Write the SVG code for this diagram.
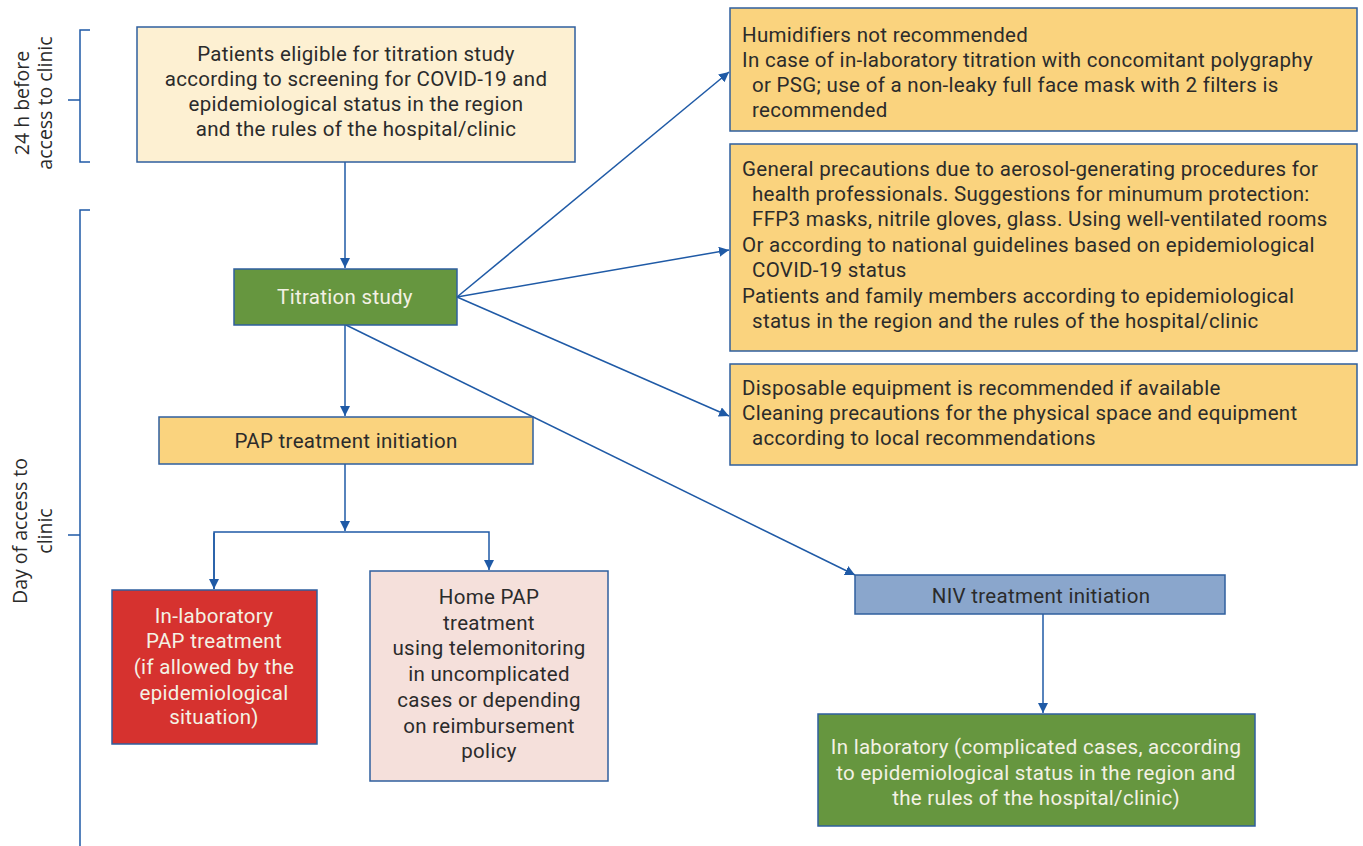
<svg xmlns="http://www.w3.org/2000/svg" width="1363" height="846" viewBox="0 0 1363 846">
<style>
  .box { stroke: #2f5f9e; stroke-width: 1.5; }
  .t { font-family: Roboto, "Liberation Sans", sans-serif; font-size: 20.5px; letter-spacing: 0.3px; fill: #2b2b2b; }
  .c { text-anchor: middle; }
  .w { fill: #f3f1e4; }
  .conn { stroke: #1f5aa6; stroke-width: 1.5; fill: none; }
  .side { font-family: "Open Sans", "Liberation Sans", sans-serif; font-size: 19.5px; fill: #2b2b2b; text-anchor: middle; }
</style>
<defs>
  <marker id="ah" markerWidth="12" markerHeight="12" refX="10" refY="5" orient="auto" markerUnits="userSpaceOnUse">
    <path d="M0,0 L10,5 L0,10 Z" fill="#1f5aa6"/>
  </marker>
</defs>
<rect width="1363" height="846" fill="#ffffff"/>

<g id="timeline">
  <path class="conn" d="M90,30 H80 V162 H90 M68,100 H80"/>
  <path class="conn" d="M90,210 H80 V846 M68,535 H80"/>
  <text class="side" transform="translate(29,103) rotate(-90)">24 h before</text>
  <text class="side" transform="translate(52,103) rotate(-90)">access to clinic</text>
  <text class="side" transform="translate(27,531) rotate(-90)">Day of access to</text>
  <text class="side" transform="translate(52,531) rotate(-90)">clinic</text>
</g>

<g id="connectors">
  <line class="conn" x1="345" y1="162" x2="345" y2="268" marker-end="url(#ah)"/>
  <line class="conn" x1="457" y1="297" x2="729" y2="72" marker-end="url(#ah)"/>
  <line class="conn" x1="457" y1="297" x2="729" y2="250" marker-end="url(#ah)"/>
  <line class="conn" x1="457" y1="297" x2="729" y2="416" marker-end="url(#ah)"/>
  <line class="conn" x1="345" y1="325" x2="345" y2="416" marker-end="url(#ah)"/>
  <line class="conn" x1="346" y1="325" x2="855" y2="575" marker-end="url(#ah)"/>
  <line class="conn" x1="345" y1="464" x2="345" y2="531" marker-end="url(#ah)"/>
  <path class="conn" d="M214,589 V532 H489 V570" marker-end="url(#ah)"/>
  <path class="conn" d="M214,533 V589" marker-end="url(#ah)"/>
  <line class="conn" x1="1043" y1="614" x2="1043" y2="713" marker-end="url(#ah)"/>
</g>

<g id="eligible">
  <rect class="box" x="137" y="27" width="438" height="135" fill="#fdf0d2"/>
  <text class="t c" x="356" y="61">Patients eligible for titration study</text>
  <text class="t c" x="356" y="86">according to screening for COVID-19 and</text>
  <text class="t c" x="356" y="111">epidemiological status in the region</text>
  <text class="t c" x="356" y="136">and the rules of the hospital/clinic</text>
</g>

<g id="titration">
  <rect class="box" x="234" y="269" width="223" height="56" fill="#66963f"/>
  <text class="t c w" x="345" y="304">Titration study</text>
</g>

<g id="pap-init">
  <rect class="box" x="159" y="417" width="374" height="47" fill="#fad37e"/>
  <text class="t c" x="346" y="448">PAP treatment initiation</text>
</g>

<g id="inlab-pap">
  <rect class="box" x="112" y="590" width="205" height="154" fill="#d6322f"/>
  <text class="t c w" x="214" y="623">In-laboratory</text>
  <text class="t c w" x="214" y="648">PAP treatment</text>
  <text class="t c w" x="214" y="674">(if allowed by the</text>
  <text class="t c w" x="214" y="700">epidemiological</text>
  <text class="t c w" x="214" y="724">situation)</text>
</g>

<g id="home-pap">
  <rect class="box" x="370" y="571" width="238" height="210" fill="#f5e0db"/>
  <text class="t c" x="489" y="604">Home PAP</text>
  <text class="t c" x="489" y="630">treatment</text>
  <text class="t c" x="489" y="655">using telemonitoring</text>
  <text class="t c" x="489" y="681">in uncomplicated</text>
  <text class="t c" x="489" y="707">cases or depending</text>
  <text class="t c" x="489" y="733">on reimbursement</text>
  <text class="t c" x="489" y="758">policy</text>
</g>

<g id="niv-init">
  <rect class="box" x="855" y="575" width="370" height="39" fill="#8aa6cc"/>
  <text class="t c" x="1041" y="603">NIV treatment initiation</text>
</g>

<g id="niv-lab">
  <rect class="box" x="818" y="714" width="437" height="112" fill="#66963f"/>
  <text class="t c w" x="1036" y="754">In laboratory (complicated cases, according</text>
  <text class="t c w" x="1036" y="780">to epidemiological status in the region and</text>
  <text class="t c w" x="1036" y="805">the rules of the hospital/clinic)</text>
</g>

<g id="humidifiers">
  <rect class="box" x="730" y="8" width="627" height="123" fill="#fad37e"/>
  <text class="t" x="742" y="42">Humidifiers not recommended</text>
  <text class="t" x="742" y="67">In case of in-laboratory titration with concomitant polygraphy</text>
  <text class="t" x="752" y="92">or PSG; use of a non-leaky full face mask with 2 filters is</text>
  <text class="t" x="752" y="117">recommended</text>
</g>

<g id="precautions">
  <rect class="box" x="730" y="144" width="627" height="207" fill="#fad37e"/>
  <text class="t" x="742" y="176">General precautions due to aerosol-generating procedures for</text>
  <text class="t" x="752" y="201">health professionals. Suggestions for minumum protection:</text>
  <text class="t" x="752" y="226">FFP3 masks, nitrile gloves, glass. Using well-ventilated rooms</text>
  <text class="t" x="742" y="252">Or according to national guidelines based on epidemiological</text>
  <text class="t" x="752" y="277">COVID-19 status</text>
  <text class="t" x="742" y="303">Patients and family members according to epidemiological</text>
  <text class="t" x="752" y="328">status in the region and the rules of the hospital/clinic</text>
</g>

<g id="equipment">
  <rect class="box" x="730" y="364" width="627" height="101" fill="#fad37e"/>
  <text class="t" x="742" y="395">Disposable equipment is recommended if available</text>
  <text class="t" x="742" y="420">Cleaning precautions for the physical space and equipment</text>
  <text class="t" x="752" y="445">according to local recommendations</text>
</g>
</svg>
